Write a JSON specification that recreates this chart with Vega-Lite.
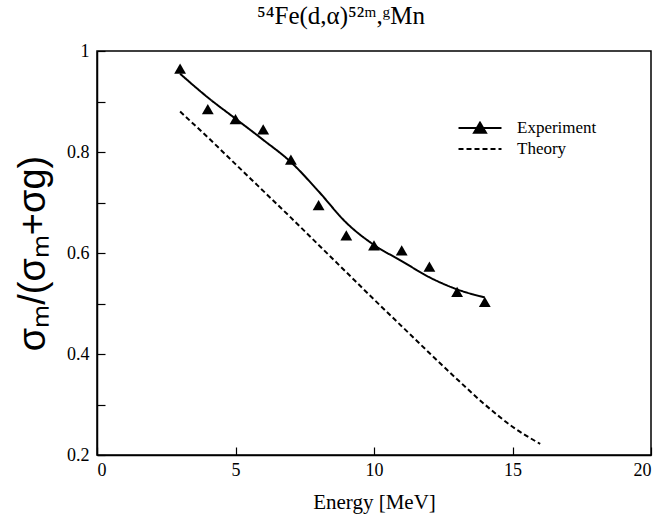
{
  "$schema": "https://vega.github.io/schema/vega-lite/v6.json",
  "width": 554,
  "height": 404,
  "autosize": {"type": "none"},
  "padding": {"left": 97, "top": 51, "right": 8, "bottom": 60},
  "background": "white",
  "title": {
    "text": "⁵⁴Fe(d,α)⁵²ᵐ,ᵍMn",
    "font": "Times New Roman",
    "fontSize": 25,
    "fontWeight": "normal",
    "color": "black",
    "dx": -33,
    "offset": 13
  },
  "config": {
    "view": {"stroke": "black", "strokeWidth": 1.5},
    "axis": {
      "domainColor": "black",
      "domainWidth": 1.5,
      "tickColor": "black",
      "tickWidth": 1.2,
      "tickSize": -8,
      "grid": false,
      "labelFont": "Times New Roman",
      "labelFontSize": 18,
      "labelColor": "black",
      "titleColor": "black",
      "titleFontWeight": "normal"
    }
  },
  "data": {
    "values": [
      {"series": "Experiment", "kind": "curve", "energy": 3.0, "ratio": 0.955},
      {"series": "Experiment", "kind": "curve", "energy": 3.5, "ratio": 0.931},
      {"series": "Experiment", "kind": "curve", "energy": 4.0, "ratio": 0.908},
      {"series": "Experiment", "kind": "curve", "energy": 5.0, "ratio": 0.866},
      {"series": "Experiment", "kind": "curve", "energy": 6.0, "ratio": 0.824},
      {"series": "Experiment", "kind": "curve", "energy": 7.0, "ratio": 0.78},
      {"series": "Experiment", "kind": "curve", "energy": 8.0, "ratio": 0.722},
      {"series": "Experiment", "kind": "curve", "energy": 9.0, "ratio": 0.66},
      {"series": "Experiment", "kind": "curve", "energy": 10.0, "ratio": 0.616},
      {"series": "Experiment", "kind": "curve", "energy": 11.0, "ratio": 0.584},
      {"series": "Experiment", "kind": "curve", "energy": 12.0, "ratio": 0.552},
      {"series": "Experiment", "kind": "curve", "energy": 13.0, "ratio": 0.528},
      {"series": "Experiment", "kind": "curve", "energy": 14.0, "ratio": 0.512},
      {"series": "Theory", "kind": "curve", "energy": 3.0, "ratio": 0.88},
      {"series": "Theory", "kind": "curve", "energy": 4.0, "ratio": 0.829},
      {"series": "Theory", "kind": "curve", "energy": 5.0, "ratio": 0.776},
      {"series": "Theory", "kind": "curve", "energy": 6.0, "ratio": 0.723},
      {"series": "Theory", "kind": "curve", "energy": 7.0, "ratio": 0.67},
      {"series": "Theory", "kind": "curve", "energy": 8.0, "ratio": 0.616},
      {"series": "Theory", "kind": "curve", "energy": 9.0, "ratio": 0.562},
      {"series": "Theory", "kind": "curve", "energy": 10.0, "ratio": 0.508},
      {"series": "Theory", "kind": "curve", "energy": 11.0, "ratio": 0.455},
      {"series": "Theory", "kind": "curve", "energy": 12.0, "ratio": 0.402},
      {"series": "Theory", "kind": "curve", "energy": 13.0, "ratio": 0.35},
      {"series": "Theory", "kind": "curve", "energy": 14.0, "ratio": 0.3},
      {"series": "Theory", "kind": "curve", "energy": 15.0, "ratio": 0.256},
      {"series": "Theory", "kind": "curve", "energy": 16.0, "ratio": 0.222},
      {"series": "Experiment", "kind": "point", "energy": 3, "ratio": 0.965},
      {"series": "Experiment", "kind": "point", "energy": 4, "ratio": 0.885},
      {"series": "Experiment", "kind": "point", "energy": 5, "ratio": 0.865},
      {"series": "Experiment", "kind": "point", "energy": 6, "ratio": 0.845},
      {"series": "Experiment", "kind": "point", "energy": 7, "ratio": 0.785},
      {"series": "Experiment", "kind": "point", "energy": 8, "ratio": 0.695},
      {"series": "Experiment", "kind": "point", "energy": 9, "ratio": 0.635},
      {"series": "Experiment", "kind": "point", "energy": 10, "ratio": 0.615},
      {"series": "Experiment", "kind": "point", "energy": 11, "ratio": 0.605},
      {"series": "Experiment", "kind": "point", "energy": 12, "ratio": 0.573},
      {"series": "Experiment", "kind": "point", "energy": 13, "ratio": 0.523},
      {"series": "Experiment", "kind": "point", "energy": 14, "ratio": 0.503}
    ]
  },
  "encoding": {
    "x": {
      "field": "energy",
      "type": "quantitative",
      "scale": {"domain": [0, 20], "nice": false},
      "axis": {
        "values": [0, 5, 10, 15, 20],
        "title": "Energy [MeV]",
        "titleFont": "Times New Roman",
        "titleFontSize": 21,
        "labelPadding": 14,
        "titlePadding": 12
      }
    },
    "y": {
      "field": "ratio",
      "type": "quantitative",
      "scale": {"domain": [0.2, 1], "nice": false, "zero": false},
      "axis": {
        "values": [0.2, 0.3, 0.4, 0.5, 0.6, 0.7, 0.8, 0.9, 1.0],
        "format": ".1~f",
        "labelExpr": "round(datum.value*10) % 2 == 0 ? datum.label : ''",
        "title": "σₘ/(σₘ+σg)",
        "titleFont": "Liberation Sans",
        "titleFontSize": 38,
        "labelPadding": 16,
        "titlePadding": 14
      }
    }
  },
  "layer": [
    {
      "transform": [{"filter": "datum.kind == 'curve'"}],
      "mark": {"type": "line", "color": "black", "strokeWidth": 2, "interpolate": "monotone"},
      "encoding": {
        "detail": {"field": "series"},
        "strokeDash": {
          "field": "series",
          "type": "nominal",
          "scale": {"domain": ["Experiment", "Theory"], "range": [[1, 0], [5, 3]]},
          "legend": {
            "title": null,
            "orient": "none",
            "legendX": 371,
            "legendY": 65,
            "labelFont": "Times New Roman",
            "labelFontSize": 17,
            "labelColor": "black",
            "symbolSize": 462,
            "symbolType": "stroke",
            "symbolStrokeColor": "black",
            "symbolStrokeWidth": 2,
            "labelOffset": 25,
            "rowPadding": -2,
            "encode": {
              "symbols": {
                "update": {
                  "shape": {"signal": "datum.value == 'Experiment' ? 'M-2,0H2M-0.56,0.45L0,-0.5L0.56,0.45Z' : 'M-2,0H2'"},
                  "fill": {"value": "black"},
                  "stroke": {"value": "black"},
                  "strokeWidth": {"value": 2}
                }
              }
            }
          }
        }
      }
    },
    {
      "transform": [{"filter": "datum.kind == 'point'"}],
      "mark": {"type": "point", "shape": "triangle-up", "filled": true, "color": "black", "size": 140, "opacity": 1}
    }
  ]
}
